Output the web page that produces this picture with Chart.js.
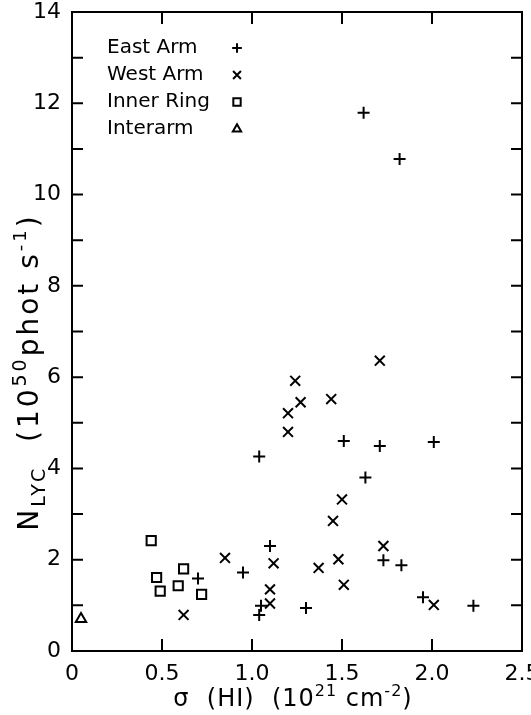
<!DOCTYPE html>
<html>
<head>
<meta charset="utf-8">
<script src="https://cdn.jsdelivr.net/npm/chart.js@4.4.0/dist/chart.umd.min.js"></script>
<style>
html, body { margin:0; padding:0; background:#fff; }
</style>
</head>
<body>
<canvas id="chart" width="531" height="715"></canvas>
<script>
// values: sigma(HI) in 1e21 cm^-2, N_LYC in 1e50 phot/s
const eastArmX = [1.62, 1.82, 1.04, 1.51, 1.71, 2.01, 1.63, 1.10, 0.95, 0.70, 1.05, 1.04, 1.30, 1.95, 2.23, 1.73, 1.83];
const eastArmY = [11.79, 10.78, 4.26, 4.60, 4.49, 4.58, 3.80, 2.30, 1.72, 1.59, 0.99, 0.79, 0.94, 1.18, 0.99, 1.99, 1.88];

const westArmX = [1.71, 1.24, 1.27, 1.20, 1.44, 1.20, 1.50, 1.45, 1.73, 1.48, 1.37, 1.51, 2.01, 0.85, 1.12, 1.10, 1.10, 0.62];
const westArmY = [6.36, 5.92, 5.45, 5.21, 5.52, 4.80, 3.32, 2.85, 2.30, 2.01, 1.82, 1.45, 1.01, 2.04, 1.92, 1.35, 1.04, 0.79];

const innerRingX = [0.44, 0.47, 0.49, 0.62, 0.59, 0.72];
const innerRingY = [2.42, 1.61, 1.31, 1.80, 1.43, 1.24];

const interarmX = [0.05];
const interarmY = [0.70];

const seriesNames = ["East Arm", "West Arm", "Inner Ring", "Interarm"];
const seriesStyles = ["cross", "crossRot", "rect", "triangle"];
const seriesRadius = [6, 7, 6.5, 6];

const FONT = "'DejaVu Sans', sans-serif";

function pts(xs, ys) { return xs.map((v, i) => ({ x: v, y: ys[i] })); }

const frame = {
  id: "frame",
  beforeDatasetsDraw(chart) {
    const { ctx, chartArea: a, scales: { x, y } } = chart;
    ctx.save();
    ctx.strokeStyle = "#000";
    ctx.lineWidth = 2;
    ctx.strokeRect(a.left, a.top, a.right - a.left, a.bottom - a.top);
    ctx.beginPath();
    x.ticks.forEach(t => {
      if (t.value <= x.min || t.value >= x.max) return;
      const px = x.getPixelForValue(t.value);
      ctx.moveTo(px, a.bottom); ctx.lineTo(px, a.bottom - 12);
      ctx.moveTo(px, a.top); ctx.lineTo(px, a.top + 12);
    });
    y.ticks.forEach(t => {
      if (t.value <= y.min || t.value >= y.max) return;
      const py = y.getPixelForValue(t.value);
      ctx.moveTo(a.left, py); ctx.lineTo(a.left + 11, py);
      ctx.moveTo(a.right, py); ctx.lineTo(a.right - 11, py);
    });
    ctx.stroke();
    ctx.restore();
  }
};

function drawRuns(ctx, runs, x, y) {
  // runs: [text, size, dy]
  let cx = x;
  runs.forEach(r => {
    ctx.font = r[1] + "px " + FONT;
    ctx.fillText(r[0], cx, y + r[2]);
    cx += ctx.measureText(r[0]).width;
  });
  return cx - x;
}
function runsWidth(ctx, runs) {
  let w = 0;
  runs.forEach(r => { ctx.font = r[1] + "px " + FONT; w += ctx.measureText(r[0]).width; });
  return w;
}

const extras = {
  id: "extras",
  afterDraw(chart) {
    const { ctx } = chart;
    ctx.save();
    ctx.fillStyle = "#000";
    ctx.textBaseline = "middle";
    // legend
    ctx.textAlign = "left";
    seriesNames.forEach((n, i) => {
      const yy = 48 + i * 27;
      ctx.font = "20px " + FONT;
      ctx.fillStyle = "#000";
      ctx.fillText(n, 107, yy);
      ctx.fillStyle = "rgba(0,0,0,0)";
      ctx.strokeStyle = "#000";
      ctx.lineWidth = 2;
      Chart.helpers.drawPoint(ctx, {
        pointStyle: seriesStyles[i], radius: seriesRadius[i] * 0.8, borderWidth: 2, rotation: 0
      }, 237, yy);
    });
    ctx.fillStyle = "#000";
    // x title
    ctx.textBaseline = "alphabetic";
    ctx.letterSpacing = "1px";
    const xr = [["\u03c3  (HI)  (10", 24, 0], ["21", 16, -10], [" cm", 24, 0], ["-2", 16, -10], [")", 24, 0]];
    const xw = runsWidth(ctx, xr);
    drawRuns(ctx, xr, 293 - xw / 2, 706);
    // y title
    ctx.letterSpacing = "3px";
    ctx.translate(38, 372);
    ctx.rotate(-Math.PI / 2);
    const yr = [["N", 28, 0], ["LYC", 19, 7], ["  (10", 28, 0], ["50", 19, -12], ["phot s", 28, 0], ["-1", 18, -12], [")", 28, 0]];
    const yw = runsWidth(ctx, yr);
    drawRuns(ctx, yr, -yw / 2, 0);
    ctx.restore();
  }
};

const blackPt = { borderColor: "#000", backgroundColor: "rgba(0,0,0,0)", borderWidth: 2 };

new Chart(document.getElementById("chart"), {
  type: "scatter",
  data: {
    datasets: [
      { label: seriesNames[0], data: pts(eastArmX, eastArmY), pointStyle: seriesStyles[0], pointRadius: seriesRadius[0], ...blackPt },
      { label: seriesNames[1], data: pts(westArmX, westArmY), pointStyle: seriesStyles[1], pointRadius: seriesRadius[1], ...blackPt },
      { label: seriesNames[2], data: pts(innerRingX, innerRingY), pointStyle: seriesStyles[2], pointRadius: seriesRadius[2], ...blackPt },
      { label: seriesNames[3], data: pts(interarmX, interarmY), pointStyle: seriesStyles[3], pointRadius: seriesRadius[3], ...blackPt }
    ]
  },
  options: {
    responsive: false,
    animation: false,
    events: [],
    layout: { padding: { left: 0, right: 9, top: 12, bottom: 0 } },
    plugins: { legend: { display: false }, tooltip: { enabled: false } },
    scales: {
      x: {
        type: "linear", min: 0, max: 2.5,
        grid: { display: false }, border: { display: false },
        ticks: { stepSize: 0.5, padding: 2, color: "#000", font: { family: FONT, size: 22 },
          callback: v => v === 0 ? "0" : v.toFixed(1) },
        afterFit: s => { s.height = 64; s.paddingLeft = 0; s.paddingRight = 0; }
      },
      y: {
        type: "linear", min: 0, max: 14,
        grid: { display: false }, border: { display: false },
        ticks: { stepSize: 1, padding: 3, color: "#000", font: { family: FONT, size: 22 },
          callback: v => v % 2 === 0 ? String(v) : "" },
        afterFit: s => { s.width = 72; s.paddingTop = 0; s.paddingBottom = 0; }
      }
    }
  },
  plugins: [frame, extras]
});
</script>
</body>
</html>
